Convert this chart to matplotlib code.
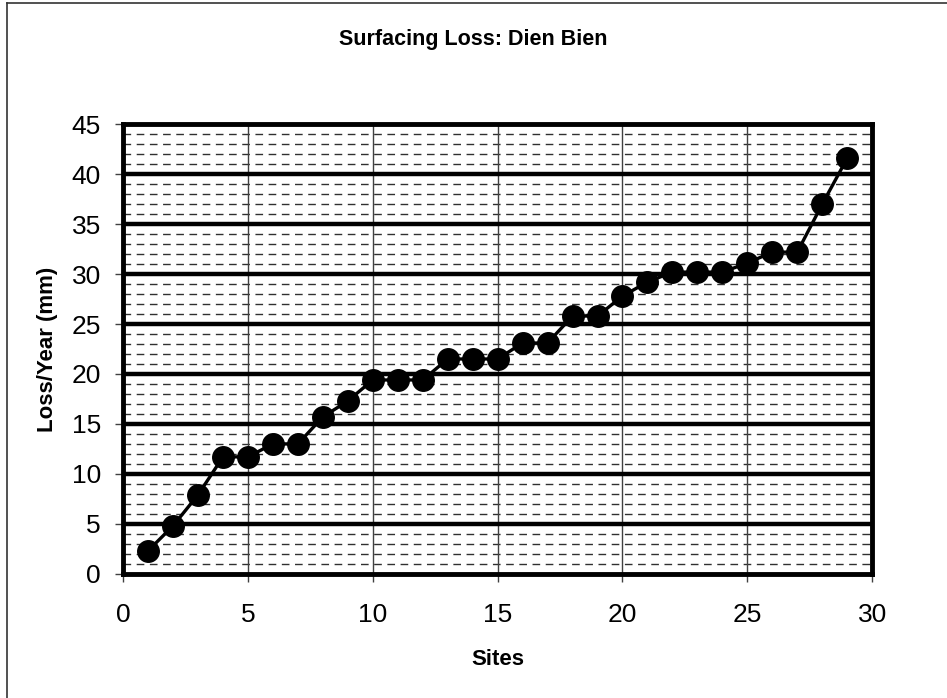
import matplotlib
matplotlib.use("Agg")
import matplotlib.pyplot as plt
from matplotlib.lines import Line2D

plt.rcParams['font.family'] = ['Liberation Sans', 'DejaVu Sans']

sites = list(range(1, 30))
loss_per_year = [2.3, 4.8, 7.9, 11.7, 11.7, 13.0, 13.0, 15.7, 17.3, 19.4,
                 19.4, 19.4, 21.5, 21.5, 21.5, 23.1, 23.1, 25.8, 25.8, 27.8,
                 29.2, 30.2, 30.2, 30.2, 31.1, 32.2, 32.2, 37.0, 41.6]
x_ticks = [0, 5, 10, 15, 20, 25, 30]
y_ticks = [0, 5, 10, 15, 20, 25, 30, 35, 40, 45]

fig = plt.figure(figsize=(9.47, 6.98), dpi=100)
ax = fig.add_axes([0.130, 0.178, 0.791, 0.644])

# minor dashed grid every unit
for v in range(1, 45):
    if v % 5:
        ax.axhline(v, color='#303030', lw=1.0, ls=(0, (5.5, 4)), zorder=1)
# vertical grid
for v in x_ticks[1:-1]:
    ax.axvline(v, color='#404040', lw=1.0, zorder=1)
# major horizontal grid
for v in y_ticks[1:-1]:
    ax.axhline(v, color='black', lw=3.2, zorder=2)

ax.plot(sites, loss_per_year, color='black', lw=2.4, marker='o',
        markersize=15.5, markerfacecolor='black', markeredgecolor='black',
        zorder=3, clip_on=False)

ax.set_xlim(0, 30)
ax.set_ylim(0, 45)
ax.set_xticks(x_ticks)
ax.set_yticks(y_ticks)
ax.tick_params(axis='both', labelsize=19, length=6, width=1, color='#404040',
               direction='out')
ax.tick_params(axis='x', pad=15)
ax.tick_params(axis='y', pad=10)
for s in ax.spines.values():
    s.set_linewidth(3.5)
    s.set_color('black')
    s.set_zorder(4)

ax.set_xlabel('Sites', fontsize=16, fontweight='bold', labelpad=16)
ax.set_ylabel('Loss/Year (mm)', fontsize=16, fontweight='bold', labelpad=10)
fig.text(0.5, 0.943, 'Surfacing Loss: Dien Bien', ha='center', va='center',
         fontsize=15.5, fontweight='bold')

# chart frame edges
fig.add_artist(Line2D([7 / 947, 7 / 947], [0, 1 - 3 / 698], color='#333333', lw=1.2))
fig.add_artist(Line2D([7 / 947, 1], [1 - 3 / 698, 1 - 3 / 698], color='#333333', lw=1.2))

fig.savefig('out.png', dpi=100)
